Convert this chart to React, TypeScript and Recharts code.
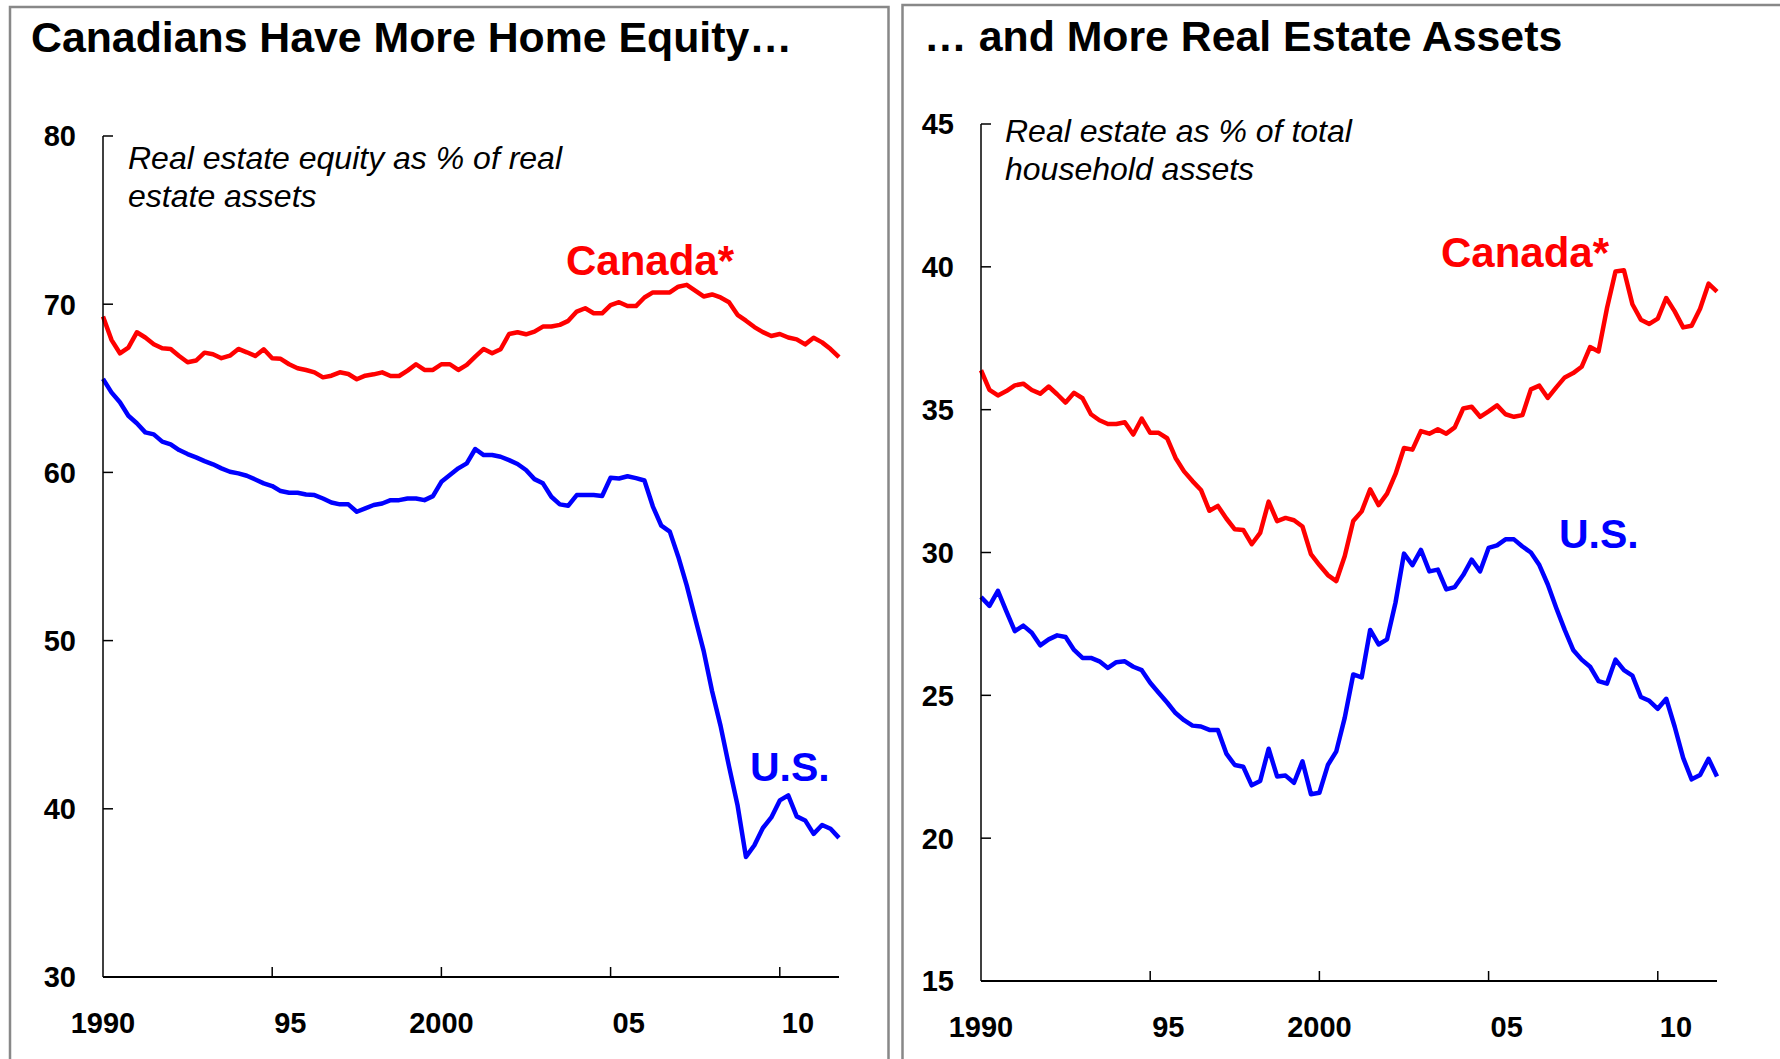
import { LineChart, Line, XAxis, YAxis } from 'recharts'

const FONT = "'Liberation Sans', Arial, Helvetica, sans-serif"

// quarterly observations, 1990Q1 .. 2011Q4
const START_YEAR = 1990
const QUARTER_COUNT = 88
const quarters = Array.from({ length: QUARTER_COUNT }, (_, i) => START_YEAR + i / 4)

const xTicks = [1990, 1995, 2000, 2005, 2010]
const xTickLabels = ['1990', '95', '2000', '05', '10']

const equityTicks = [30, 40, 50, 60, 70, 80]
const assetTicks = [15, 20, 25, 30, 35, 40, 45]

// Real estate equity as % of real estate assets
const equityCanada = [
  69.27, 67.88, 67.08, 67.42, 68.33, 68.02, 67.62, 67.38, 67.34, 66.92,
  66.55, 66.65, 67.12, 67.02, 66.79, 66.94, 67.34, 67.14, 66.92, 67.32,
  66.79, 66.75, 66.43, 66.19, 66.09, 65.95, 65.65, 65.75, 65.95, 65.85,
  65.54, 65.75, 65.83, 65.95, 65.73, 65.73, 66.05, 66.43, 66.09, 66.09,
  66.43, 66.43, 66.09, 66.39, 66.88, 67.34, 67.08, 67.32, 68.23, 68.33,
  68.21, 68.37, 68.67, 68.67, 68.77, 69.01, 69.56, 69.76, 69.46, 69.46,
  69.95, 70.12, 69.89, 69.89, 70.4, 70.7, 70.7, 70.7, 71.04, 71.15,
  70.81, 70.46, 70.58, 70.4, 70.12, 69.37, 69.02, 68.64, 68.34, 68.11,
  68.23, 68.02, 67.91, 67.61, 68.0, 67.73, 67.33, 66.85,
]
const equityUS = [
  65.56, 64.76, 64.17, 63.37, 62.92, 62.38, 62.26, 61.83, 61.67, 61.33,
  61.09, 60.89, 60.67, 60.48, 60.24, 60.04, 59.94, 59.8, 59.58, 59.35,
  59.19, 58.89, 58.79, 58.79, 58.69, 58.65, 58.45, 58.21, 58.1, 58.1,
  57.66, 57.86, 58.06, 58.15, 58.35, 58.35, 58.45, 58.45, 58.35, 58.59,
  59.44, 59.84, 60.24, 60.54, 61.39, 61.03, 61.03, 60.93, 60.73, 60.5,
  60.14, 59.6, 59.35, 58.55, 58.1, 58.02, 58.65, 58.65, 58.65, 58.6,
  59.68, 59.64, 59.77, 59.66, 59.52, 57.97, 56.83, 56.48, 54.99, 53.28,
  51.33, 49.39, 46.99, 44.93, 42.52, 40.23, 37.14, 37.83, 38.86, 39.49,
  40.5, 40.8, 39.55, 39.31, 38.51, 39.04, 38.81, 38.27,
]

// Real estate as % of total household assets
const assetsCanada = [
  36.38, 35.69, 35.5, 35.65, 35.85, 35.91, 35.69, 35.56, 35.81, 35.54,
  35.25, 35.59, 35.4, 34.84, 34.63, 34.5, 34.5, 34.56, 34.13, 34.69,
  34.19, 34.19, 34.0, 33.31, 32.84, 32.5, 32.19, 31.46, 31.63, 31.19,
  30.81, 30.79, 30.29, 30.69, 31.78, 31.1, 31.21, 31.13, 30.91, 29.94,
  29.56, 29.21, 29.0, 29.88, 31.1, 31.44, 32.21, 31.66, 32.06, 32.75,
  33.66, 33.6, 34.25, 34.16, 34.31, 34.16, 34.38, 35.04, 35.1, 34.75,
  34.94, 35.15, 34.84, 34.75, 34.81, 35.71, 35.84, 35.41, 35.78, 36.13,
  36.28, 36.5, 37.19, 37.04, 38.56, 39.84, 39.88, 38.69, 38.15, 38.0,
  38.19, 38.91, 38.44, 37.88, 37.94, 38.53, 39.41, 39.13,
]
const assetsUS = [
  28.44, 28.13, 28.66, 27.94, 27.25, 27.44, 27.19, 26.75, 26.96, 27.1,
  27.04, 26.59, 26.31, 26.31, 26.19, 25.96, 26.16, 26.19, 26.0, 25.88,
  25.44, 25.09, 24.75, 24.38, 24.13, 23.94, 23.91, 23.79, 23.79, 22.96,
  22.56, 22.5, 21.85, 22.0, 23.13, 22.16, 22.19, 21.94, 22.69, 21.54,
  21.59, 22.56, 23.04, 24.22, 25.73, 25.63, 27.29, 26.78, 26.96, 28.25,
  29.96, 29.56, 30.09, 29.34, 29.4, 28.71, 28.79, 29.21, 29.75, 29.34,
  30.16, 30.25, 30.46, 30.46, 30.21, 30.0, 29.56, 28.88, 28.06, 27.29,
  26.59, 26.25, 26.0, 25.5, 25.41, 26.25, 25.88, 25.69, 24.94, 24.81,
  24.53, 24.88, 23.9, 22.81, 22.06, 22.21, 22.78, 22.16,
]

const equityData = quarters.map((t, i) => ({ t, canada: equityCanada[i], us: equityUS[i] }))
const assetsData = quarters.map((t, i) => ({ t, canada: assetsCanada[i], us: assetsUS[i] }))

const YTick = ({ x, y, payload }: any) => (
  <g>
    <line x1={x} x2={x + 10} y1={y} y2={y} stroke="#000" strokeWidth={1.5} />
    <text x={x - 27} y={y} dy="0.36em" textAnchor="end" fontSize={29} fontWeight="bold" fontFamily={FONT} fill="#000">
      {payload.value}
    </text>
  </g>
)

const XTick = ({ x, y, payload }: any) => {
  const label = xTickLabels[xTicks.indexOf(payload.value)]
  const full = label.length === 4
  return (
    <g>
      {payload.value !== xTicks[0] && (
        <line x1={x} x2={x} y1={y} y2={y - 10} stroke="#000" strokeWidth={1.5} />
      )}
      <text
        x={full ? x : x + 2}
        y={y + 56}
        textAnchor={full ? 'middle' : 'start'}
        fontSize={29}
        fontWeight="bold"
        fontFamily={FONT}
        fill="#000"
      >
        {label}
      </text>
    </g>
  )
}

// axisLeft / axisBottom: pixel room given to the y and x axes inside each panel
function Panel({ data, margin, axisLeft, axisBottom, domain, ticks }: any) {
  return (
    <LineChart width={890} height={1059} data={data} margin={margin}>
      <XAxis
        dataKey="t"
        type="number"
        domain={[START_YEAR, quarters[quarters.length - 1]]}
        ticks={xTicks}
        interval={0}
        height={axisBottom}
        tickSize={0}
        tickMargin={0}
        tickLine={false}
        axisLine={{ stroke: '#000', strokeWidth: 2 }}
        tick={(p: any) => <XTick {...p} />}
      />
      <YAxis
        type="number"
        domain={domain}
        ticks={ticks}
        interval={0}
        width={axisLeft}
        tickSize={0}
        tickMargin={0}
        tickLine={false}
        axisLine={{ stroke: '#000', strokeWidth: 1.5 }}
        tick={(p: any) => <YTick {...p} />}
      />
      <Line type="linear" dataKey="canada" stroke="#ff0000" strokeWidth={4.5} strokeLinejoin="round" dot={false} activeDot={false} isAnimationActive={false} />
      <Line type="linear" dataKey="us" stroke="#0000ff" strokeWidth={4.5} strokeLinejoin="round" dot={false} activeDot={false} isAnimationActive={false} />
    </LineChart>
  )
}

export default function App() {
  const title = { fontWeight: 'bold' as const, fontSize: 42.8 }
  const label = { fontWeight: 'bold' as const, fontSize: 42 }
  const note = { fontStyle: 'italic' as const, fontSize: 32 }
  return (
    <div style={{ position: 'absolute', left: 0, top: 0, width: 1780, height: 1059, background: '#fff', overflow: 'hidden' }}>
      <div style={{ position: 'absolute', left: 0, top: 0 }}>
        <Panel
          data={equityData}
          margin={{ top: 136, right: 51, bottom: 0, left: 0 }}
          axisLeft={103}
          axisBottom={82}
          domain={[30, 80]}
          ticks={equityTicks}
        />
      </div>
      <div style={{ position: 'absolute', left: 890, top: 0 }}>
        <Panel
          data={assetsData}
          margin={{ top: 124, right: 63, bottom: 0, left: 0 }}
          axisLeft={91}
          axisBottom={78}
          domain={[15, 45]}
          ticks={assetTicks}
        />
      </div>
      <svg width={1780} height={1059} style={{ position: 'absolute', left: 0, top: 0, pointerEvents: 'none' }} fontFamily={FONT}>
        <path d="M10 1059 V7 H888.5 V1059" fill="none" stroke="#888" strokeWidth={2.5} />
        <path d="M902.5 1059 V5 H1780" fill="none" stroke="#888" strokeWidth={2.5} />

        <text x={31} y={52} {...title}>Canadians Have More Home Equity…</text>
        <text x={924} y={51} {...title}>… and More Real Estate Assets</text>

        <text x={128} y={169} {...note}>Real estate equity as % of real</text>
        <text x={128} y={207} {...note}>estate assets</text>
        <text x={1005} y={142} {...note}>Real estate as % of total</text>
        <text x={1005} y={180} {...note}>household assets</text>

        <text x={566} y={275} {...label} fill="#ff0000">Canada*</text>
        <text x={1441} y={267} {...label} fill="#ff0000">Canada*</text>
        <text x={750} y={781} {...label} fontSize={41} fill="#0000ff">U.S.</text>
        <text x={1559} y={548} {...label} fontSize={41} fill="#0000ff">U.S.</text>
      </svg>
    </div>
  )
}
